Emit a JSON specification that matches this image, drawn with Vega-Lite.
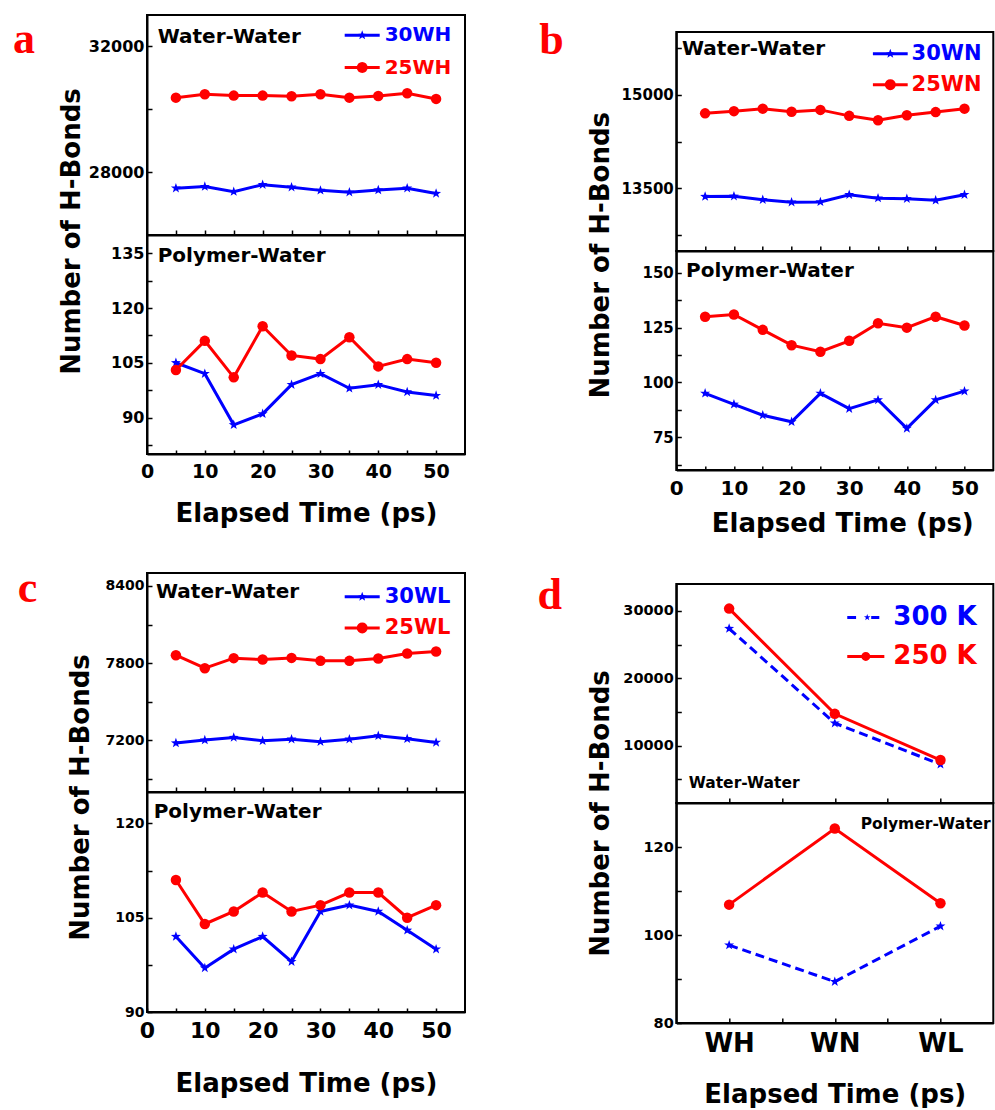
{
  "$schema": "https://vega.github.io/schema/vega-lite/v6.json",
  "padding": {"left": 12, "top": 14, "right": 0, "bottom": 0},
  "autosize": {"type": "pad"},
  "spacing": 70.3,
  "resolve": {"scale": {"color": "independent", "shape": "independent"}, "legend": {"color": "independent", "shape": "independent"}},
  "datasets": {
    "aTop": [
      {"t": 5, "s": "30WH", "v": 27490}, {"t": 10, "s": "30WH", "v": 27540}, {"t": 15, "s": "30WH", "v": 27380}, {"t": 20, "s": "30WH", "v": 27600}, {"t": 25, "s": "30WH", "v": 27520},
      {"t": 30, "s": "30WH", "v": 27420}, {"t": 35, "s": "30WH", "v": 27360}, {"t": 40, "s": "30WH", "v": 27430}, {"t": 45, "s": "30WH", "v": 27490}, {"t": 50, "s": "30WH", "v": 27320},
      {"t": 5, "s": "25WH", "v": 30370}, {"t": 10, "s": "25WH", "v": 30480}, {"t": 15, "s": "25WH", "v": 30435}, {"t": 20, "s": "25WH", "v": 30435}, {"t": 25, "s": "25WH", "v": 30415},
      {"t": 30, "s": "25WH", "v": 30480}, {"t": 35, "s": "25WH", "v": 30370}, {"t": 40, "s": "25WH", "v": 30425}, {"t": 45, "s": "25WH", "v": 30510}, {"t": 50, "s": "25WH", "v": 30330}
    ],
    "aBot": [
      {"t": 5, "s": "30WH", "v": 105}, {"t": 10, "s": "30WH", "v": 102}, {"t": 15, "s": "30WH", "v": 88}, {"t": 20, "s": "30WH", "v": 91}, {"t": 25, "s": "30WH", "v": 99},
      {"t": 30, "s": "30WH", "v": 102}, {"t": 35, "s": "30WH", "v": 98}, {"t": 40, "s": "30WH", "v": 99}, {"t": 45, "s": "30WH", "v": 97}, {"t": 50, "s": "30WH", "v": 96},
      {"t": 5, "s": "25WH", "v": 103}, {"t": 10, "s": "25WH", "v": 111}, {"t": 15, "s": "25WH", "v": 101}, {"t": 20, "s": "25WH", "v": 115}, {"t": 25, "s": "25WH", "v": 107},
      {"t": 30, "s": "25WH", "v": 106}, {"t": 35, "s": "25WH", "v": 112}, {"t": 40, "s": "25WH", "v": 104}, {"t": 45, "s": "25WH", "v": 106}, {"t": 50, "s": "25WH", "v": 105}
    ],
    "bTop": [
      {"t": 5, "s": "30WN", "v": 13370}, {"t": 10, "s": "30WN", "v": 13375}, {"t": 15, "s": "30WN", "v": 13320}, {"t": 20, "s": "30WN", "v": 13280}, {"t": 25, "s": "30WN", "v": 13285},
      {"t": 30, "s": "30WN", "v": 13400}, {"t": 35, "s": "30WN", "v": 13345}, {"t": 40, "s": "30WN", "v": 13335}, {"t": 45, "s": "30WN", "v": 13310}, {"t": 50, "s": "30WN", "v": 13400},
      {"t": 5, "s": "25WN", "v": 14700}, {"t": 10, "s": "25WN", "v": 14735}, {"t": 15, "s": "25WN", "v": 14775}, {"t": 20, "s": "25WN", "v": 14725}, {"t": 25, "s": "25WN", "v": 14755},
      {"t": 30, "s": "25WN", "v": 14660}, {"t": 35, "s": "25WN", "v": 14590}, {"t": 40, "s": "25WN", "v": 14670}, {"t": 45, "s": "25WN", "v": 14720}, {"t": 50, "s": "25WN", "v": 14775}
    ],
    "bBot": [
      {"t": 5, "s": "30WN", "v": 95}, {"t": 10, "s": "30WN", "v": 90}, {"t": 15, "s": "30WN", "v": 85}, {"t": 20, "s": "30WN", "v": 82}, {"t": 25, "s": "30WN", "v": 95},
      {"t": 30, "s": "30WN", "v": 88}, {"t": 35, "s": "30WN", "v": 92}, {"t": 40, "s": "30WN", "v": 79}, {"t": 45, "s": "30WN", "v": 92}, {"t": 50, "s": "30WN", "v": 96},
      {"t": 5, "s": "25WN", "v": 130}, {"t": 10, "s": "25WN", "v": 131}, {"t": 15, "s": "25WN", "v": 124}, {"t": 20, "s": "25WN", "v": 117}, {"t": 25, "s": "25WN", "v": 114},
      {"t": 30, "s": "25WN", "v": 119}, {"t": 35, "s": "25WN", "v": 127}, {"t": 40, "s": "25WN", "v": 125}, {"t": 45, "s": "25WN", "v": 130}, {"t": 50, "s": "25WN", "v": 126}
    ],
    "cTop": [
      {"t": 5, "s": "30WL", "v": 7180}, {"t": 10, "s": "30WL", "v": 7203}, {"t": 15, "s": "30WL", "v": 7223}, {"t": 20, "s": "30WL", "v": 7197}, {"t": 25, "s": "30WL", "v": 7210},
      {"t": 30, "s": "30WL", "v": 7190}, {"t": 35, "s": "30WL", "v": 7210}, {"t": 40, "s": "30WL", "v": 7236}, {"t": 45, "s": "30WL", "v": 7213}, {"t": 50, "s": "30WL", "v": 7185},
      {"t": 5, "s": "25WL", "v": 7862}, {"t": 10, "s": "25WL", "v": 7761}, {"t": 15, "s": "25WL", "v": 7839}, {"t": 20, "s": "25WL", "v": 7828}, {"t": 25, "s": "25WL", "v": 7841},
      {"t": 30, "s": "25WL", "v": 7818}, {"t": 35, "s": "25WL", "v": 7818}, {"t": 40, "s": "25WL", "v": 7836}, {"t": 45, "s": "25WL", "v": 7875}, {"t": 50, "s": "25WL", "v": 7890}
    ],
    "cBot": [
      {"t": 5, "s": "30WL", "v": 102}, {"t": 10, "s": "30WL", "v": 97}, {"t": 15, "s": "30WL", "v": 100}, {"t": 20, "s": "30WL", "v": 102}, {"t": 25, "s": "30WL", "v": 98},
      {"t": 30, "s": "30WL", "v": 106}, {"t": 35, "s": "30WL", "v": 107}, {"t": 40, "s": "30WL", "v": 106}, {"t": 45, "s": "30WL", "v": 103}, {"t": 50, "s": "30WL", "v": 100},
      {"t": 5, "s": "25WL", "v": 111}, {"t": 10, "s": "25WL", "v": 104}, {"t": 15, "s": "25WL", "v": 106}, {"t": 20, "s": "25WL", "v": 109}, {"t": 25, "s": "25WL", "v": 106},
      {"t": 30, "s": "25WL", "v": 107}, {"t": 35, "s": "25WL", "v": 109}, {"t": 40, "s": "25WL", "v": 109}, {"t": 45, "s": "25WL", "v": 105}, {"t": 50, "s": "25WL", "v": 107}
    ],
    "dTop": [
      {"i": 1, "w": "WH", "s": "300 K", "v": 27390}, {"i": 2, "w": "WN", "s": "300 K", "v": 13350}, {"i": 3, "w": "WL", "s": "300 K", "v": 7240},
      {"i": 1, "w": "WH", "s": "250 K", "v": 30350}, {"i": 2, "w": "WN", "s": "250 K", "v": 14730}, {"i": 3, "w": "WL", "s": "250 K", "v": 7880}
    ],
    "dBot": [
      {"i": 1, "w": "WH", "s": "300 K", "v": 97.7}, {"i": 2, "w": "WN", "s": "300 K", "v": 89.4}, {"i": 3, "w": "WL", "s": "300 K", "v": 102.0},
      {"i": 1, "w": "WH", "s": "250 K", "v": 106.9}, {"i": 2, "w": "WN", "s": "250 K", "v": 124.2}, {"i": 3, "w": "WL", "s": "250 K", "v": 107.2}
    ]
  },
  "hconcat": [
    {
      "bounds": "flush",
      "spacing": 0,
      "resolve": {"scale": {"color": "independent", "shape": "independent"}, "legend": {"color": "independent", "shape": "independent"}},
      "vconcat": [
        {
          "width": 318, "height": 220,
          "data": {"name": "aTop"},
          "encoding": {
            "x": {"field": "t", "type": "quantitative", "scale": {"domain": [0, 55]}, "axis": {"values": [5, 10, 15, 20, 25, 30, 35, 40, 45, 50], "labels": false, "tickSize": -5, "title": null}},
            "y": {"field": "v", "type": "quantitative", "scale": {"domain": [26000, 33000]}, "axis": {"values": [28000, 30000, 32000], "format": "d", "labelExpr": "datum.value == 30000 ? '' : datum.label", "tickSize": -5, "labelPadding": 8, "labelFontSize": 16, "title": null}}
          },
          "layer": [
            {"transform": [{"filter": "datum.s == '30WH'"}], "mark": {"type": "line", "strokeWidth": 3, "color": "#0000ff"}},
            {"transform": [{"filter": "datum.s == '25WH'"}], "mark": {"type": "line", "strokeWidth": 3, "color": "#ff0000"}},
            {"transform": [{"filter": "datum.s == '30WH'"}], "mark": {"type": "point", "filled": true, "opacity": 1, "size": 110, "color": "#0000ff", "shape": "M0,-1L0.235,-0.324L0.951,-0.309L0.38,0.124L0.588,0.809L0,0.4L-0.588,0.809L-0.38,0.124L-0.951,-0.309L-0.235,-0.324Z"}},
            {"transform": [{"filter": "datum.s == '25WH'"}], "mark": {"type": "point", "filled": true, "opacity": 1, "size": 110, "color": "#ff0000", "shape": "circle"}},
            {"transform": [{"filter": "datum.t == 5 && datum.s == '30WH'"}], "mark": {"type": "text", "align": "left", "baseline": "alphabetic", "dx": 10.7, "dy": 27.7, "fontSize": 20, "fontWeight": "bold", "font": "DejaVu Sans", "color": "#000000"}, "encoding": {"x": {"datum": 0}, "y": {"datum": 33000}, "text": {"value": "Water-Water"}}},
            {"transform": [{"filter": "datum.t == 5 && datum.s == '30WH'"}], "mark": {"type": "text", "align": "left", "baseline": "alphabetic", "dx": -134, "dy": 38, "fontSize": 44, "fontWeight": "bold", "font": "Liberation Serif", "color": "#ff0000"}, "encoding": {"x": {"datum": 0}, "y": {"datum": 33000}, "text": {"value": "a"}}},
            {"transform": [{"filter": "false"}], "mark": {"type": "point", "filled": true, "opacity": 1},
              "encoding": {
                "color": {"field": "s", "type": "nominal", "scale": {"domain": ["30WH", "25WH"], "range": ["#0000ff", "#ff0000"]}, "legend": {"orient": "none", "legendX": 200.2, "legendY": 5.2, "title": null, "symbolSize": 900, "symbolStrokeWidth": 0, "labelFontSize": 20, "labelOffset": 7.5, "rowPadding": 7.3, "padding": 0, "labelLimit": 0, "labelColor": {"expr": "datum.value == '30WH' ? '#0000ff' : '#ff0000'"}}},
                "shape": {"field": "s", "type": "nominal", "scale": {"domain": ["30WH", "25WH"], "range": ["M-1.167,-0.1H1.167V0.1H-1.167Z M0,-0.333L0.078,-0.108L0.317,-0.103L0.127,0.041L0.196,0.27L0,0.133L-0.196,0.27L-0.127,0.041L-0.317,-0.103L-0.078,-0.108Z", "M-1.167,-0.1H1.167V0.1H-1.167Z M0.367,0L0.339,0.141L0.259,0.259L0.141,0.339L0,0.367L-0.141,0.339L-0.259,0.259L-0.339,0.141L-0.367,0L-0.339,-0.141L-0.259,-0.259L-0.141,-0.339L0,-0.367L0.141,-0.339L0.259,-0.259L0.339,-0.141Z"]}, "legend": {"orient": "none", "legendX": 200.2, "legendY": 5.2, "title": null, "symbolSize": 900, "symbolStrokeWidth": 0, "labelFontSize": 20, "labelOffset": 7.5, "rowPadding": 7.3, "padding": 0, "labelLimit": 0, "labelColor": {"expr": "datum.value == '30WH' ? '#0000ff' : '#ff0000'"}}}
              }
            }
          ]
        },
        {
          "width": 318, "height": 219,
          "data": {"name": "aBot"},
          "encoding": {
            "x": {"field": "t", "type": "quantitative", "scale": {"domain": [0, 55]}, "axis": {"values": [0, 5, 10, 15, 20, 25, 30, 35, 40, 45, 50], "labelExpr": "datum.value % 10 == 0 ? datum.label : ''", "tickSize": -4, "labelPadding": 12, "labelFontSize": 19, "title": "Elapsed Time (ps)", "titleFontSize": 26, "titleBaseline": "alphabetic", "titleY": 67.4}},
            "y": {"field": "v", "type": "quantitative", "scale": {"domain": [80, 140]}, "axis": {"values": [82.5, 90, 97.5, 105, 112.5, 120, 127.5, 135], "labelExpr": "datum.value % 15 == 0 ? datum.label : ''", "tickSize": -5, "labelPadding": 8, "labelFontSize": 16, "title": "Number of H-Bonds", "titleFontSize": 26, "titleBaseline": "alphabetic", "titleX": -68, "titleY": -4}}
          },
          "layer": [
            {"transform": [{"filter": "datum.s == '30WH'"}], "mark": {"type": "line", "strokeWidth": 3, "color": "#0000ff"}},
            {"transform": [{"filter": "datum.s == '25WH'"}], "mark": {"type": "line", "strokeWidth": 3, "color": "#ff0000"}},
            {"transform": [{"filter": "datum.s == '30WH'"}], "mark": {"type": "point", "filled": true, "opacity": 1, "size": 110, "color": "#0000ff", "shape": "M0,-1L0.235,-0.324L0.951,-0.309L0.38,0.124L0.588,0.809L0,0.4L-0.588,0.809L-0.38,0.124L-0.951,-0.309L-0.235,-0.324Z"}},
            {"transform": [{"filter": "datum.s == '25WH'"}], "mark": {"type": "point", "filled": true, "opacity": 1, "size": 110, "color": "#ff0000", "shape": "circle"}},
            {"transform": [{"filter": "datum.t == 5 && datum.s == '30WH'"}], "mark": {"type": "text", "align": "left", "baseline": "alphabetic", "dx": 10.7, "dy": 26.7, "fontSize": 20, "fontWeight": "bold", "font": "DejaVu Sans", "color": "#000000"}, "encoding": {"x": {"datum": 0}, "y": {"datum": 140}, "text": {"value": "Polymer-Water"}}}
          ]
        },
        {"width": 318, "height": 119, "data": {"values": [{"s": ""}]}, "mark": {"type": "text", "text": ""}, "encoding": {}, "view": {"stroke": null}},
        {
          "width": 318, "height": 219,
          "data": {"name": "cTop"},
          "encoding": {
            "x": {"field": "t", "type": "quantitative", "scale": {"domain": [0, 55]}, "axis": {"values": [5, 10, 15, 20, 25, 30, 35, 40, 45, 50], "labels": false, "tickSize": -5, "title": null}},
            "y": {"field": "v", "type": "quantitative", "scale": {"domain": [6800, 8500]}, "axis": {"values": [6900, 7200, 7500, 7800, 8100, 8400], "format": "d", "labelExpr": "datum.value % 600 == 0 ? datum.label : ''", "tickSize": -5, "labelPadding": 8, "labelFontSize": 14, "title": null}}
          },
          "layer": [
            {"transform": [{"filter": "datum.s == '30WL'"}], "mark": {"type": "line", "strokeWidth": 3, "color": "#0000ff"}},
            {"transform": [{"filter": "datum.s == '25WL'"}], "mark": {"type": "line", "strokeWidth": 3, "color": "#ff0000"}},
            {"transform": [{"filter": "datum.s == '30WL'"}], "mark": {"type": "point", "filled": true, "opacity": 1, "size": 110, "color": "#0000ff", "shape": "M0,-1L0.235,-0.324L0.951,-0.309L0.38,0.124L0.588,0.809L0,0.4L-0.588,0.809L-0.38,0.124L-0.951,-0.309L-0.235,-0.324Z"}},
            {"transform": [{"filter": "datum.s == '25WL'"}], "mark": {"type": "point", "filled": true, "opacity": 1, "size": 110, "color": "#ff0000", "shape": "circle"}},
            {"transform": [{"filter": "datum.t == 5 && datum.s == '30WL'"}], "mark": {"type": "text", "align": "left", "baseline": "alphabetic", "dx": 9, "dy": 25.3, "fontSize": 20, "fontWeight": "bold", "font": "DejaVu Sans", "color": "#000000"}, "encoding": {"x": {"datum": 0}, "y": {"datum": 8500}, "text": {"value": "Water-Water"}}},
            {"transform": [{"filter": "datum.t == 5 && datum.s == '30WL'"}], "mark": {"type": "text", "align": "left", "baseline": "alphabetic", "dx": -129.3, "dy": 28.7, "fontSize": 44, "fontWeight": "bold", "font": "Liberation Serif", "color": "#ff0000"}, "encoding": {"x": {"datum": 0}, "y": {"datum": 8500}, "text": {"value": "c"}}},
            {"transform": [{"filter": "false"}], "mark": {"type": "point", "filled": true, "opacity": 1},
              "encoding": {
                "color": {"field": "s", "type": "nominal", "scale": {"domain": ["30WL", "25WL"], "range": ["#0000ff", "#ff0000"]}, "legend": {"orient": "none", "legendX": 200.2, "legendY": 8.7, "title": null, "symbolSize": 900, "symbolStrokeWidth": 0, "labelFontSize": 21, "labelOffset": 7.5, "rowPadding": 6.2, "padding": 0, "labelLimit": 0, "labelColor": {"expr": "datum.value == '30WL' ? '#0000ff' : '#ff0000'"}}},
                "shape": {"field": "s", "type": "nominal", "scale": {"domain": ["30WL", "25WL"], "range": ["M-1.167,-0.1H1.167V0.1H-1.167Z M0,-0.333L0.078,-0.108L0.317,-0.103L0.127,0.041L0.196,0.27L0,0.133L-0.196,0.27L-0.127,0.041L-0.317,-0.103L-0.078,-0.108Z", "M-1.167,-0.1H1.167V0.1H-1.167Z M0.367,0L0.339,0.141L0.259,0.259L0.141,0.339L0,0.367L-0.141,0.339L-0.259,0.259L-0.339,0.141L-0.367,0L-0.339,-0.141L-0.259,-0.259L-0.141,-0.339L0,-0.367L0.141,-0.339L0.259,-0.259L0.339,-0.141Z"]}, "legend": {"orient": "none", "legendX": 200.2, "legendY": 8.7, "title": null, "symbolSize": 900, "symbolStrokeWidth": 0, "labelFontSize": 21, "labelOffset": 7.5, "rowPadding": 6.2, "padding": 0, "labelLimit": 0, "labelColor": {"expr": "datum.value == '30WL' ? '#0000ff' : '#ff0000'"}}}
              }
            }
          ]
        },
        {
          "width": 318, "height": 220,
          "data": {"name": "cBot"},
          "encoding": {
            "x": {"field": "t", "type": "quantitative", "scale": {"domain": [0, 55]}, "axis": {"values": [0, 5, 10, 15, 20, 25, 30, 35, 40, 45, 50], "labelExpr": "datum.value % 10 == 0 ? datum.label : ''", "tickSize": -4, "labelPadding": 12, "labelFontSize": 22, "title": "Elapsed Time (ps)", "titleFontSize": 26, "titleBaseline": "alphabetic", "titleY": 79.4}},
            "y": {"field": "v", "type": "quantitative", "scale": {"domain": [90, 125]}, "axis": {"values": [90, 97.5, 105, 112.5, 120], "labelExpr": "datum.value % 15 == 0 ? datum.label : ''", "tickSize": -5, "labelPadding": 8, "labelFontSize": 14, "title": "Number of H-Bonds", "titleFontSize": 26, "titleBaseline": "alphabetic", "titleX": -58.7, "titleY": 5}}
          },
          "layer": [
            {"transform": [{"filter": "datum.s == '30WL'"}], "mark": {"type": "line", "strokeWidth": 3, "color": "#0000ff"}},
            {"transform": [{"filter": "datum.s == '25WL'"}], "mark": {"type": "line", "strokeWidth": 3, "color": "#ff0000"}},
            {"transform": [{"filter": "datum.s == '30WL'"}], "mark": {"type": "point", "filled": true, "opacity": 1, "size": 110, "color": "#0000ff", "shape": "M0,-1L0.235,-0.324L0.951,-0.309L0.38,0.124L0.588,0.809L0,0.4L-0.588,0.809L-0.38,0.124L-0.951,-0.309L-0.235,-0.324Z"}},
            {"transform": [{"filter": "datum.s == '25WL'"}], "mark": {"type": "point", "filled": true, "opacity": 1, "size": 110, "color": "#ff0000", "shape": "circle"}},
            {"transform": [{"filter": "datum.t == 5 && datum.s == '30WL'"}], "mark": {"type": "text", "align": "left", "baseline": "alphabetic", "dx": 6.7, "dy": 26.3, "fontSize": 20, "fontWeight": "bold", "font": "DejaVu Sans", "color": "#000000"}, "encoding": {"x": {"datum": 0}, "y": {"datum": 125}, "text": {"value": "Polymer-Water"}}}
          ]
        }
      ]
    },
    {
      "bounds": "flush",
      "spacing": 0,
      "resolve": {"scale": {"color": "independent", "shape": "independent"}, "legend": {"color": "independent", "shape": "independent"}},
      "vconcat": [
        {"width": 317, "height": 17, "data": {"values": [{"s": ""}]}, "mark": {"type": "text", "text": ""}, "encoding": {}, "view": {"stroke": null}},
        {
          "width": 317, "height": 219,
          "data": {"name": "bTop"},
          "encoding": {
            "x": {"field": "t", "type": "quantitative", "scale": {"domain": [0, 55]}, "axis": {"values": [5, 10, 15, 20, 25, 30, 35, 40, 45, 50], "labels": false, "tickSize": -5, "title": null}},
            "y": {"field": "v", "type": "quantitative", "scale": {"domain": [12500, 16000]}, "axis": {"values": [12750, 13500, 14250, 15000, 15750], "format": "d", "labelExpr": "datum.value == 13500 || datum.value == 15000 ? datum.label : ''", "tickSize": -5, "labelPadding": 8, "labelFontSize": 15, "title": null}}
          },
          "layer": [
            {"transform": [{"filter": "datum.s == '30WN'"}], "mark": {"type": "line", "strokeWidth": 3, "color": "#0000ff"}},
            {"transform": [{"filter": "datum.s == '25WN'"}], "mark": {"type": "line", "strokeWidth": 3, "color": "#ff0000"}},
            {"transform": [{"filter": "datum.s == '30WN'"}], "mark": {"type": "point", "filled": true, "opacity": 1, "size": 110, "color": "#0000ff", "shape": "M0,-1L0.235,-0.324L0.951,-0.309L0.38,0.124L0.588,0.809L0,0.4L-0.588,0.809L-0.38,0.124L-0.951,-0.309L-0.235,-0.324Z"}},
            {"transform": [{"filter": "datum.s == '25WN'"}], "mark": {"type": "point", "filled": true, "opacity": 1, "size": 110, "color": "#ff0000", "shape": "circle"}},
            {"transform": [{"filter": "datum.t == 5 && datum.s == '30WN'"}], "mark": {"type": "text", "align": "left", "baseline": "alphabetic", "dx": 5.7, "dy": 23, "fontSize": 20, "fontWeight": "bold", "font": "DejaVu Sans", "color": "#000000"}, "encoding": {"x": {"datum": 0}, "y": {"datum": 16000}, "text": {"value": "Water-Water"}}},
            {"transform": [{"filter": "datum.t == 5 && datum.s == '30WN'"}], "mark": {"type": "text", "align": "left", "baseline": "alphabetic", "dx": -137, "dy": 22, "fontSize": 44, "fontWeight": "bold", "font": "Liberation Serif", "color": "#ff0000"}, "encoding": {"x": {"datum": 0}, "y": {"datum": 16000}, "text": {"value": "b"}}},
            {"transform": [{"filter": "false"}], "mark": {"type": "point", "filled": true, "opacity": 1},
              "encoding": {
                "color": {"field": "s", "type": "nominal", "scale": {"domain": ["30WN", "25WN"], "range": ["#0000ff", "#ff0000"]}, "legend": {"orient": "none", "legendX": 199.5, "legendY": 7.2, "title": null, "symbolSize": 841, "symbolStrokeWidth": 0, "labelFontSize": 21, "labelOffset": 6.8, "rowPadding": 6, "padding": 0, "labelLimit": 0, "labelColor": {"expr": "datum.value == '30WN' ? '#0000ff' : '#ff0000'"}}},
                "shape": {"field": "s", "type": "nominal", "scale": {"domain": ["30WN", "25WN"], "range": ["M-1.2,-0.1H1.2V0.1H-1.2Z M0,-0.345L0.081,-0.112L0.328,-0.107L0.131,0.043L0.203,0.279L0,0.138L-0.203,0.279L-0.131,0.043L-0.328,-0.107L-0.081,-0.112Z", "M-1.2,-0.1H1.2V0.1H-1.2Z M0.38,0L0.351,0.145L0.269,0.269L0.145,0.351L0,0.38L-0.145,0.351L-0.269,0.269L-0.351,0.145L-0.38,0L-0.351,-0.145L-0.269,-0.269L-0.145,-0.351L0,-0.38L0.145,-0.351L0.269,-0.269L0.351,-0.145Z"]}, "legend": {"orient": "none", "legendX": 199.5, "legendY": 7.2, "title": null, "symbolSize": 841, "symbolStrokeWidth": 0, "labelFontSize": 21, "labelOffset": 6.8, "rowPadding": 6, "padding": 0, "labelLimit": 0, "labelColor": {"expr": "datum.value == '30WN' ? '#0000ff' : '#ff0000'"}}}
              }
            }
          ]
        },
        {
          "width": 317, "height": 219,
          "data": {"name": "bBot"},
          "encoding": {
            "x": {"field": "t", "type": "quantitative", "scale": {"domain": [0, 55]}, "axis": {"values": [0, 5, 10, 15, 20, 25, 30, 35, 40, 45, 50], "labelExpr": "datum.value % 10 == 0 ? datum.label : ''", "tickSize": -4, "labelPadding": 12, "labelFontSize": 20, "title": "Elapsed Time (ps)", "titleFontSize": 26, "titleBaseline": "alphabetic", "titleY": 61.7, "titleX": 166}},
            "y": {"field": "v", "type": "quantitative", "scale": {"domain": [60, 160]}, "axis": {"values": [62.5, 75, 87.5, 100, 112.5, 125, 137.5, 150], "labelExpr": "datum.value % 25 == 0 ? datum.label : ''", "tickSize": -5, "labelPadding": 8, "labelFontSize": 15, "title": "Number of H-Bonds", "titleFontSize": 26, "titleBaseline": "alphabetic", "titleX": -68, "titleY": 3.7}}
          },
          "layer": [
            {"transform": [{"filter": "datum.s == '30WN'"}], "mark": {"type": "line", "strokeWidth": 3, "color": "#0000ff"}},
            {"transform": [{"filter": "datum.s == '25WN'"}], "mark": {"type": "line", "strokeWidth": 3, "color": "#ff0000"}},
            {"transform": [{"filter": "datum.s == '30WN'"}], "mark": {"type": "point", "filled": true, "opacity": 1, "size": 110, "color": "#0000ff", "shape": "M0,-1L0.235,-0.324L0.951,-0.309L0.38,0.124L0.588,0.809L0,0.4L-0.588,0.809L-0.38,0.124L-0.951,-0.309L-0.235,-0.324Z"}},
            {"transform": [{"filter": "datum.s == '25WN'"}], "mark": {"type": "point", "filled": true, "opacity": 1, "size": 110, "color": "#ff0000", "shape": "circle"}},
            {"transform": [{"filter": "datum.t == 5 && datum.s == '30WN'"}], "mark": {"type": "text", "align": "left", "baseline": "alphabetic", "dx": 9.7, "dy": 25.7, "fontSize": 20, "fontWeight": "bold", "font": "DejaVu Sans", "color": "#000000"}, "encoding": {"x": {"datum": 0}, "y": {"datum": 160}, "text": {"value": "Polymer-Water"}}}
          ]
        },
        {"width": 317, "height": 114, "data": {"values": [{"s": ""}]}, "mark": {"type": "text", "text": ""}, "encoding": {}, "view": {"stroke": null}},
        {
          "width": 317, "height": 219,
          "data": {"name": "dTop"},
          "encoding": {
            "x": {"field": "i", "type": "quantitative", "scale": {"domain": [0.5, 3.5]}, "axis": {"values": [1, 1.5, 2, 2.5, 3], "labels": false, "tickSize": -5, "title": null}},
            "y": {"field": "v", "type": "quantitative", "scale": {"domain": [1500, 34000]}, "axis": {"values": [5000, 10000, 15000, 20000, 25000, 30000], "format": "d", "labelExpr": "datum.value % 10000 == 0 ? datum.label : ''", "tickSize": -5, "labelPadding": 8, "labelFontSize": 14.5, "title": null}}
          },
          "layer": [
            {"transform": [{"filter": "datum.s == '300 K'"}], "mark": {"type": "line", "strokeWidth": 3, "strokeDash": [9, 5], "color": "#0000ff"}},
            {"transform": [{"filter": "datum.s == '250 K'"}], "mark": {"type": "line", "strokeWidth": 3, "color": "#ff0000"}},
            {"transform": [{"filter": "datum.s == '300 K'"}], "mark": {"type": "point", "filled": true, "opacity": 1, "size": 110, "color": "#0000ff", "shape": "M0,-1L0.235,-0.324L0.951,-0.309L0.38,0.124L0.588,0.809L0,0.4L-0.588,0.809L-0.38,0.124L-0.951,-0.309L-0.235,-0.324Z"}},
            {"transform": [{"filter": "datum.s == '250 K'"}], "mark": {"type": "point", "filled": true, "opacity": 1, "size": 110, "color": "#ff0000", "shape": "circle"}},
            {"transform": [{"filter": "datum.i == 1 && datum.s == '300 K'"}], "mark": {"type": "text", "align": "left", "baseline": "alphabetic", "dx": 12.4, "dy": -14.7, "fontSize": 15.5, "fontWeight": "bold", "font": "DejaVu Sans", "color": "#000000"}, "encoding": {"x": {"datum": 0.5}, "y": {"datum": 1500}, "text": {"value": "Water-Water"}}},
            {"transform": [{"filter": "datum.i == 1 && datum.s == '300 K'"}], "mark": {"type": "text", "align": "left", "baseline": "alphabetic", "dx": -138.7, "dy": 25.3, "fontSize": 44, "fontWeight": "bold", "font": "Liberation Serif", "color": "#ff0000"}, "encoding": {"x": {"datum": 0.5}, "y": {"datum": 34000}, "text": {"value": "d"}}},
            {"transform": [{"filter": "false"}], "mark": {"type": "point", "filled": true, "opacity": 1},
              "encoding": {
                "color": {"field": "s", "type": "nominal", "scale": {"domain": ["300 K", "250 K"], "range": ["#0000ff", "#ff0000"]}, "legend": {"orient": "none", "legendX": 171.5, "legendY": 15.4, "title": null, "symbolSize": 1296, "symbolStrokeWidth": 0, "labelFontSize": 26, "labelOffset": 9.5, "rowPadding": 8, "padding": 0, "labelLimit": 0, "labelColor": {"expr": "datum.value == '300 K' ? '#0000ff' : '#ff0000'"}}},
                "shape": {"field": "s", "type": "nominal", "scale": {"domain": ["300 K", "250 K"], "range": ["M-1.03,-0.083H-0.54V0.083H-1.03Z M0.3,-0.083H0.75V0.083H0.3Z M0.08,-0.19L0.125,-0.062L0.261,-0.059L0.152,0.024L0.192,0.154L0.08,0.076L-0.032,0.154L0.008,0.024L-0.101,-0.059L0.035,-0.062Z", "M-1.03,-0.083H1.03V0.083H-1.03Z M0.25,0L0.231,0.096L0.177,0.177L0.096,0.231L0,0.25L-0.096,0.231L-0.177,0.177L-0.231,0.096L-0.25,0L-0.231,-0.096L-0.177,-0.177L-0.096,-0.231L0,-0.25L0.096,-0.231L0.177,-0.177L0.231,-0.096Z"]}, "legend": {"orient": "none", "legendX": 171.5, "legendY": 15.4, "title": null, "symbolSize": 1296, "symbolStrokeWidth": 0, "labelFontSize": 26, "labelOffset": 9.5, "rowPadding": 8, "padding": 0, "labelLimit": 0, "labelColor": {"expr": "datum.value == '300 K' ? '#0000ff' : '#ff0000'"}}}
              }
            }
          ]
        },
        {
          "width": 317, "height": 220,
          "data": {"name": "dBot"},
          "encoding": {
            "x": {"field": "i", "type": "quantitative", "scale": {"domain": [0.5, 3.5]}, "axis": {"values": [1, 1.5, 2, 2.5, 3], "labelExpr": "datum.value == 1 ? 'WH' : datum.value == 2 ? 'WN' : datum.value == 3 ? 'WL' : ''", "tickSize": -5, "labelPadding": 12, "labelFontSize": 26, "title": "Elapsed Time (ps)", "titleFontSize": 26, "titleBaseline": "alphabetic", "titleY": 79}},
            "y": {"field": "v", "type": "quantitative", "scale": {"domain": [80, 130]}, "axis": {"values": [80, 90, 100, 110, 120], "labelExpr": "datum.value % 20 == 0 ? datum.label : ''", "tickSize": -5, "labelPadding": 8, "labelFontSize": 14.5, "title": "Number of H-Bonds", "titleFontSize": 26, "titleBaseline": "alphabetic", "titleX": -68.3, "titleY": 10}}
          },
          "layer": [
            {"transform": [{"filter": "datum.s == '300 K'"}], "mark": {"type": "line", "strokeWidth": 3, "strokeDash": [9, 5], "color": "#0000ff"}},
            {"transform": [{"filter": "datum.s == '250 K'"}], "mark": {"type": "line", "strokeWidth": 3, "color": "#ff0000"}},
            {"transform": [{"filter": "datum.s == '300 K'"}], "mark": {"type": "point", "filled": true, "opacity": 1, "size": 110, "color": "#0000ff", "shape": "M0,-1L0.235,-0.324L0.951,-0.309L0.38,0.124L0.588,0.809L0,0.4L-0.588,0.809L-0.38,0.124L-0.951,-0.309L-0.235,-0.324Z"}},
            {"transform": [{"filter": "datum.s == '250 K'"}], "mark": {"type": "point", "filled": true, "opacity": 1, "size": 110, "color": "#ff0000", "shape": "circle"}},
            {"transform": [{"filter": "datum.i == 1 && datum.s == '300 K'"}], "mark": {"type": "text", "align": "right", "baseline": "alphabetic", "dx": -2.6, "dy": 25.7, "fontSize": 15.5, "fontWeight": "bold", "font": "DejaVu Sans", "color": "#000000"}, "encoding": {"x": {"datum": 3.5}, "y": {"datum": 130}, "text": {"value": "Polymer-Water"}}}
          ]
        }
      ]
    }
  ],
  "config": {
    "font": "DejaVu Sans",
    "view": {"stroke": "#000000", "strokeWidth": 2},
    "axis": {"grid": false, "domainColor": "#000000", "domainWidth": 2, "tickColor": "#000000", "tickWidth": 1.5, "labelFont": "DejaVu Sans", "labelFontWeight": "bold", "labelColor": "#000000", "titleFont": "DejaVu Sans", "titleFontWeight": "bold", "titleColor": "#000000", "labelOverlap": false, "labelFlush": false, "labelBound": false},
    "legend": {"labelFont": "DejaVu Sans", "labelFontWeight": "bold"}
  }
}
